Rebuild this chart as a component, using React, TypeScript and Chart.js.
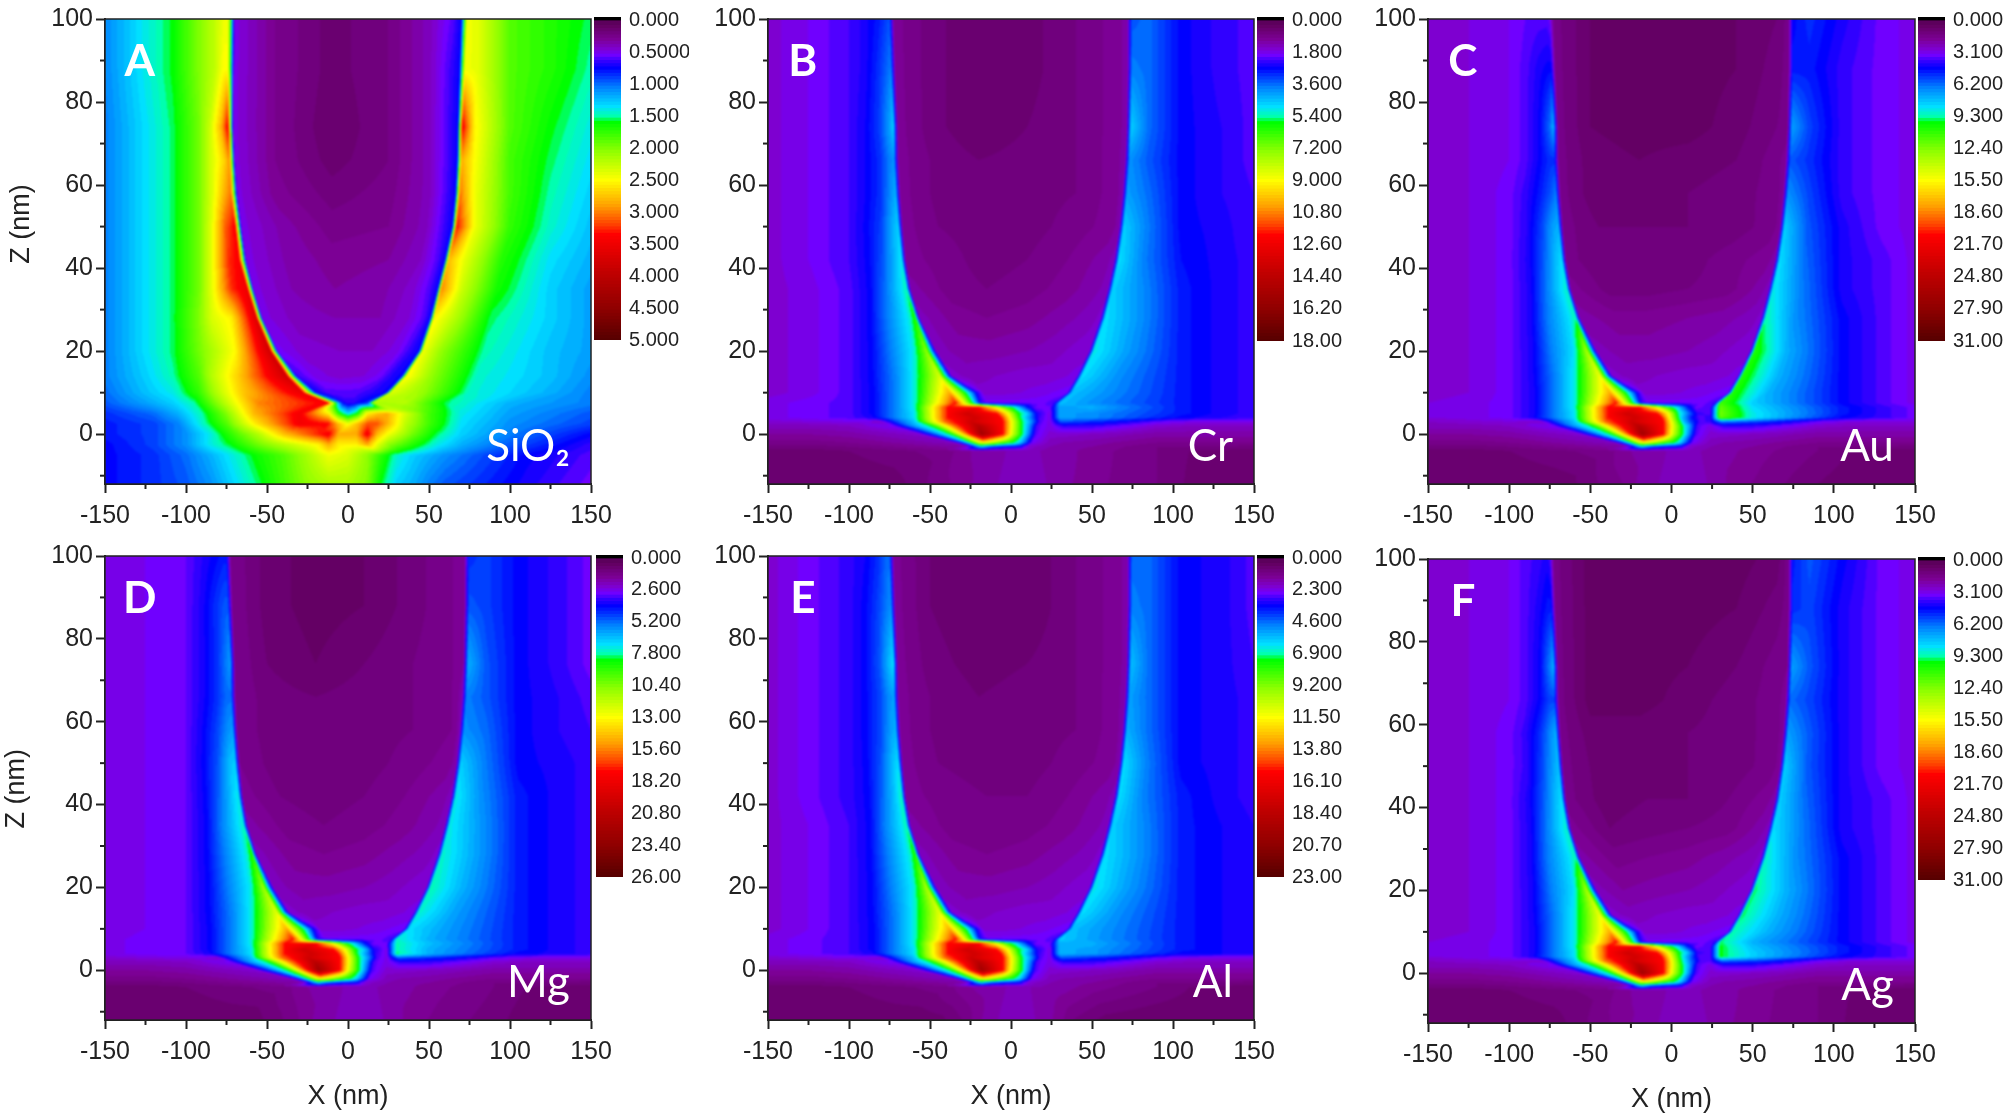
import React, { useEffect, useRef } from "react";
import Chart from "chart.js/auto";

// Field levels are stored on a 0-200 scale of each panel's colour bar.
const xTicks = [-150, -100, -50, 0, 50, 100, 150];
const xMinor = [-125, -75, -25, 25, 75, 125];
const zTicks = [0, 20, 40, 60, 80, 100];
const zMinor = [-10, 10, 30, 50, 70, 90];

const barLabelsSiO2 = ["0.000","0.5000","1.000","1.500","2.000","2.500","3.000","3.500","4.000","4.500","5.000"];
const barLabelsCr = ["0.000","1.800","3.600","5.400","7.200","9.000","10.80","12.60","14.40","16.20","18.00"];
const barLabelsAu = ["0.000","3.100","6.200","9.300","12.40","15.50","18.60","21.70","24.80","27.90","31.00"];
const barLabelsMg = ["0.000","2.600","5.200","7.800","10.40","13.00","15.60","18.20","20.80","23.40","26.00"];
const barLabelsAl = ["0.000","2.300","4.600","6.900","9.200","11.50","13.80","16.10","18.40","20.70","23.00"];
const barLabelsAg = barLabelsAu;

const zRows = [100,88,74,66,58,50,42,35,28,20,14,10,7.5,6.5,5,4,3,2,0,-2,-3,-4,-12];
const xNodes = [
[-150,-125,-100,-90,-82,-77,-75,-72.5,-50,-20,10,40,65,72,74.5,85,105,130,150],
[-150,-125,-100,-90,-82,-76,-74,-71.5,-50,-20,10,40,65,72,74.5,85,105,130,150],
[-150,-125,-100,-90,-81,-75,-72.5,-70,-50,-20,10,40,65,71.5,74,85,105,130,150],
[-150,-125,-100,-90,-81,-75,-72,-69.5,-50,-20,10,40,64,70.5,73,85,105,130,150],
[-150,-125,-100,-90,-81,-74,-71,-68.5,-50,-20,10,40,64,69,71.5,85,105,130,150],
[-150,-125,-100,-89,-80,-73,-69.5,-67,-45,-15,10,40,62,67,69.5,84,105,130,150],
[-150,-125,-100,-88,-79,-71,-67.5,-65,-42,-15,10,35,58,64,66.5,82,105,130,150],
[-150,-125,-100,-87,-78,-68,-64.5,-62,-38,-15,10,35,55,60,62.5,80,105,130,150],
[-150,-125,-100,-87,-76,-63,-59,-56.5,-35,-15,10,30,50,55.5,58,76,105,130,150],
[-150,-125,-100,-86,-74,-60,-52,-46,-30,-12,10,25,42,48.5,51,71,105,130,150],
[-150,-125,-100,-86,-72,-60,-44,-36.5,-25,-10,10,25,35,41,43.5,66,105,130,150],
[-150,-125,-100,-85,-72,-60,-38,-21,-17,-8,6,18,25,35,37.5,60,105,130,150],
[-150,-125,-100,-85,-72,-60,-34,-18.5,-14,-8,4,12,20,27,30,50,105,130,150],
[-150,-125,-100,-85,-72,-60,-39,-20,-10,-2,4,10,15,24,30,50,105,130,150],
[-150,-125,-100,-85,-72,-60,-39,-28,-9,-2,4,10,16,24,30,50,105,130,150],
[-150,-125,-100,-86,-72,-60,-39,-22,-6,0,6,12,17,24,30,50,105,130,150],
[-150,-125,-100,-80,-72,-60,-41,-25,-5,1,7,12,18,24,31,60,90,110,150],
[-150,-125,-100,-72,-62,-49,-35,-20,-5,1,7,12,16,24,32,50,90,110,150],
[-150,-125,-100,-56,-50,-37,-27,-18,-5,1,7,11,15,24,32,50,90,110,150],
[-150,-125,-100,-36,-32,-25,-20,-17,-5,1,5,9,13,24,32,50,90,110,150],
[-150,-125,-100,-28,-25,-21,-18,-12,-3,3,6,8,11,24,32,50,90,110,150],
[-150,-125,-100,-60,-40,-25,-18,-10,-3,3,8,12,18,24,32,50,90,110,150],
[-150,-125,-100,-85,-65,-45,-30,-18,-8,0,8,15,22,30,38,60,90,115,150],
];
const substrateLevels = [
[14,14,15,20,40,62,120,160,132,94,60,40,22,18,24,24,16,15,15],
[11,11,12,16,30,62,120,170,132,90,60,40,22,16,16,15,12,12,12],
[8,8,9,14,26,60,90,100,72,62,52,36,20,14,13,12,9,9,9],
[6,6,7,12,20,40,50,36,30,28,26,20,16,13,12,11,7,7,6],
[4,4,5,7,8,11,12,12,13,13,13,13,13,12,12,10,7,5,4],
];
const levelsCr = [
[16,19,23,26,30,34,36,10,6,3,4,7,10,12,36,38,28,24,22],
[16,19,23,26,32,38,40,10,6,3,4,7,10,12,40,38,28,24,22],
[16,19,23,27,34,44,50,10,6,3,5,7,10,12,50,38,28,25,22],
[16,19,23,27,32,40,42,10,7,5,6,7,10,12,42,36,28,25,22],
[16,19,23,27,32,42,46,10,7,6,6,7,10,12,44,38,28,25,23],
[16,19,23,28,34,46,50,10,7,6,6,8,10,12,50,40,28,26,23],
[16,19,23,28,36,48,54,10,8,6,7,9,12,14,52,40,29,26,24],
[16,18,22,28,38,52,58,12,8,7,8,10,13,14,50,42,30,26,24],
[16,18,22,28,40,54,66,14,10,9,10,12,14,16,52,44,30,26,24],
[16,18,22,28,40,54,80,14,12,12,13,14,16,16,54,44,30,26,24],
[16,18,22,28,40,54,92,16,14,15,16,16,17,18,52,42,30,26,24],
[16,18,22,28,40,54,112,26,16,16,17,18,19,20,48,42,30,26,24],
[18,20,22,28,40,54,132,24,20,20,20,20,20,24,48,42,30,26,24],
[18,20,22,28,40,54,132,136,98,66,50,30,20,20,44,46,30,26,24],
[18,20,22,28,40,52,132,150,132,98,66,50,26,18,44,42,30,26,24],
[18,20,22,26,40,52,132,150,132,94,60,40,24,18,44,42,28,25,24],
[16,17,18,16,32,48,120,150,132,94,60,44,22,18,36,30,21,18,18],
...substrateLevels,
[3,3,3,3,5,8,10,12,13,14,14,14,13,12,11,9,7,4,4],
];
const levelsAu = [
[16,17,19,21,22,22,20,8,3,2,2,3,5,8,28,32,26,20,18],
[16,17,19,22,26,28,28,8,3,2,2,3,6,8,30,30,24,20,18],
[16,17,19,22,28,38,46,8,3,2,2,4,7,8,44,34,24,20,18],
[16,17,19,22,28,32,32,8,4,3,4,5,8,10,36,32,24,20,18],
[16,17,20,24,30,36,40,8,4,4,5,6,8,10,42,34,24,20,18],
[16,17,20,25,34,44,46,8,5,5,5,6,8,10,50,36,26,20,18],
[16,17,20,26,36,48,52,8,5,5,6,8,10,12,52,38,26,22,18],
[16,17,20,26,38,52,56,10,6,6,7,8,12,14,54,40,26,22,18],
[16,17,20,26,40,52,58,12,10,10,11,12,14,16,58,42,28,22,18],
[16,17,20,26,40,52,84,14,12,12,13,14,16,16,66,46,28,22,18],
[16,17,20,26,40,54,96,16,14,15,16,16,17,18,66,46,28,22,18],
[16,17,20,26,40,54,112,26,16,16,17,18,19,20,66,46,28,22,18],
[17,18,20,26,40,54,132,24,20,20,20,20,20,24,70,50,28,22,18],
[17,18,20,26,40,54,132,136,98,66,50,30,20,22,74,52,30,24,20],
[17,18,20,26,40,52,132,150,132,98,60,40,24,22,76,54,30,24,20],
[17,18,20,26,40,52,132,150,132,90,50,30,22,24,74,54,28,24,20],
[15,16,17,16,32,48,120,150,132,90,50,34,22,24,40,32,20,17,17],
...substrateLevels,
[3,3,3,3,4,7,9,12,13,14,14,14,13,12,10,8,5,3,3],
];
const levelsMg = [
[17,19,21,25,28,30,30,9,4,2,3,6,9,11,32,34,28,24,20],
[17,19,21,26,32,36,36,9,4,2,3,6,9,11,36,34,28,24,20],
[17,19,21,26,32,40,44,9,5,3,5,7,9,11,46,36,28,24,20],
[17,19,21,26,32,38,38,9,6,5,6,7,9,12,40,36,28,25,22],
[17,19,21,27,34,42,44,9,6,6,6,7,9,12,42,38,28,25,23],
[17,19,21,28,36,48,50,9,6,6,6,8,10,12,50,40,28,26,24],
[17,19,21,28,38,50,54,10,7,6,7,9,12,14,54,42,30,26,24],
[17,19,21,28,40,52,56,12,8,7,8,10,13,14,54,44,30,26,24],
[17,19,21,28,40,54,66,14,10,9,10,12,14,16,56,46,30,26,24],
[17,19,21,28,40,54,82,14,12,12,13,14,16,16,58,46,30,26,24],
[17,19,21,28,40,54,94,16,14,15,16,16,17,18,56,44,30,26,24],
[17,19,21,28,40,54,112,26,16,16,17,18,19,20,52,44,30,26,24],
[18,20,21,28,40,54,132,24,20,20,20,20,20,24,56,46,30,26,24],
[18,20,21,28,40,54,132,136,98,66,50,30,20,20,58,48,30,26,24],
[18,20,21,28,40,52,132,150,132,98,66,50,26,18,58,46,30,26,24],
[18,20,21,26,40,52,132,150,132,94,60,40,24,18,60,46,28,26,24],
[16,17,18,16,32,48,120,150,132,94,60,44,22,18,36,30,21,18,18],
...substrateLevels,
[3,3,3,3,3,6,9,12,13,14,14,14,13,12,10,8,6,3,3],
];
const levelsAl = [
[16,20,24,27,32,38,38,10,5,3,3,7,10,12,38,38,28,26,22],
[16,20,24,28,34,40,42,10,5,3,3,7,10,12,40,38,28,26,22],
[16,20,24,28,36,48,52,10,6,4,5,7,10,12,48,38,28,26,23],
[16,20,24,28,34,42,44,10,7,5,6,7,10,12,44,38,28,26,24],
[16,20,24,28,34,44,46,10,7,6,6,7,10,12,46,38,28,26,24],
[16,20,24,28,36,48,52,10,7,6,6,8,10,12,52,40,28,26,24],
[16,20,24,28,38,50,58,10,8,7,7,9,12,14,52,40,30,26,24],
[16,19,23,28,40,52,58,12,8,7,8,10,13,14,50,42,30,27,25],
[16,19,23,28,40,54,66,14,10,9,10,12,14,16,52,44,30,27,25],
[16,19,23,28,40,54,84,14,12,12,13,14,16,16,54,44,30,27,25],
[16,19,23,28,40,54,94,16,14,15,16,16,17,18,52,42,30,27,25],
[16,19,23,28,40,54,112,26,16,16,17,18,19,20,48,42,30,27,25],
[18,20,23,28,40,54,132,24,20,20,20,20,20,24,50,44,30,27,25],
[18,20,23,28,40,54,132,136,98,66,50,30,20,20,46,46,30,27,25],
[18,20,23,28,40,52,132,150,132,98,66,50,26,18,46,44,30,27,25],
[18,20,23,26,40,52,132,150,132,94,60,40,24,18,46,44,28,27,25],
[16,17,18,16,32,48,120,150,132,94,60,44,22,18,36,30,21,18,18],
...substrateLevels,
[3,3,3,3,3,4,7,11,13,14,14,13,12,10,7,4,3,3,3],
];
const levelsAg = [
[16,17,19,22,24,26,24,8,2,2,2,2,4,8,30,36,28,20,18],
[16,17,19,22,26,30,30,8,2,2,2,3,6,8,32,34,26,20,18],
[16,17,19,22,28,40,46,8,2,2,3,5,8,9,44,36,26,20,18],
[16,17,19,22,28,34,34,8,2,2,4,6,8,10,38,34,26,20,18],
[16,17,20,24,32,42,46,8,4,4,5,6,8,10,44,36,26,20,18],
[16,17,20,24,34,44,48,8,4,4,5,6,8,10,50,36,26,20,18],
[16,17,20,26,36,48,52,8,4,5,5,7,10,12,50,38,26,22,18],
[16,17,20,26,38,52,56,10,5,6,7,8,12,14,52,40,26,22,18],
[16,17,20,26,40,52,58,12,8,9,10,12,14,16,56,42,28,22,18],
[16,17,20,26,40,52,84,14,11,12,13,14,16,16,60,46,28,22,18],
[16,17,20,26,40,54,96,16,14,15,16,16,17,18,60,46,28,22,18],
[16,17,20,26,40,54,112,26,16,16,17,18,19,20,58,46,28,22,18],
[17,18,20,26,40,54,132,24,20,20,20,20,20,24,60,46,28,22,18],
[17,18,20,26,40,54,132,136,98,66,50,30,20,22,62,48,30,24,20],
[17,18,20,26,40,52,132,150,132,98,66,48,24,22,62,50,30,24,20],
[17,18,20,26,40,52,132,150,132,94,58,36,22,22,62,50,28,24,20],
[15,16,17,16,32,48,120,150,132,92,56,38,22,22,38,32,20,17,17],
...substrateLevels,
[3,3,3,3,5,8,10,12,13,14,14,14,13,12,11,9,7,4,3],
];

const zRowsSiO2 = [100,88,74,66,58,50,42,35,28,20,14,10,7.5,5,2.5,0,-2.5,-5,-12];
const xNodesSiO2 = [
[-150,-125,-108,-92,-82,-76,-74,-70,-45,-10,25,50,65,70,73.5,80,100,125,150],
[-150,-125,-108,-92,-82,-77,-74,-70.5,-45,-10,25,50,64,69,72,80,100,125,150],
[-150,-125,-108,-92,-85,-78,-74,-71,-45,-10,25,50,63,68,70.5,78,100,125,150],
[-150,-125,-108,-92,-85,-77,-73,-70,-45,-10,25,50,63,67.5,70,78,100,125,150],
[-150,-125,-108,-92,-84,-76,-72,-68.5,-45,-10,25,50,62,66.5,69,78,100,125,150],
[-150,-125,-108,-92,-84,-76,-69.5,-66,-40,-10,25,48,60,64.5,67,78,100,125,150],
[-150,-125,-108,-92,-84,-74,-67,-63,-40,-10,25,45,55,60,62,72,95,125,150],
[-150,-125,-108,-92,-84,-72,-62,-58.5,-35,-8,20,40,50,55.5,57.5,70,92,125,150],
[-150,-125,-108,-92,-84,-72,-56.5,-53,-32,-8,20,38,47,51,53,66,88,125,150],
[-150,-125,-108,-92,-84,-70,-48,-43.5,-28,-5,15,30,38,44,46,58,84,125,150],
[-150,-125,-108,-92,-84,-68,-38,-32,-20,-5,10,20,28,33.5,36,52,80,125,150],
[-150,-125,-108,-92,-82,-66,-28,-20,-12,-5,5,12,18,24,26,45,75,125,150],
[-150,-125,-108,-95,-80,-55,-12,-6,-3,0,3,7,10,12,15,35,60,100,150],
[-150,-120,-105,-90,-75,-58,-30,-12,-6,0,6,12,18,24,35,50,70,100,150],
[-150,-120,-105,-90,-75,-58,-30,-12,-6,0,6,12,18,24,35,50,70,100,150],
[-150,-120,-100,-85,-72,-55,-40,-18,-12,-6,5,12,18,25,40,55,70,100,150],
[-150,-120,-100,-85,-72,-55,-40,-18,-12,-6,5,12,18,25,40,55,70,100,150],
[-150,-120,-100,-85,-72,-55,-40,-25,-12,0,12,20,30,40,50,60,80,110,150],
[-150,-120,-100,-85,-72,-55,-40,-25,-12,0,12,20,30,40,50,60,80,110,150],
];
const levelsSiO2 = [
[41,54,62,78,88,96,96,18,9,4,7,14,22,28,96,94,72,66,60],
[41,54,62,78,88,98,98,18,9,4,7,14,24,28,96,94,72,66,58],
[40,52,60,76,90,112,136,18,9,3,7,14,24,28,136,100,72,62,54],
[40,52,60,76,90,104,116,18,9,4,7,14,24,28,112,98,70,60,52],
[40,52,60,76,92,112,120,18,10,6,8,14,24,28,120,96,70,58,50],
[40,52,60,76,94,122,134,18,12,8,9,14,24,28,132,96,68,56,48],
[40,52,60,76,94,128,134,18,13,10,11,15,22,28,110,94,66,52,46],
[40,52,60,76,94,128,138,18,13,11,12,16,22,28,118,90,64,50,44],
[40,52,60,78,92,100,145,18,14,13,13,17,22,28,100,86,60,50,44],
[40,52,60,76,84,98,150,20,16,15,15,18,24,28,96,80,58,48,44],
[40,50,58,72,86,106,150,24,18,16,17,20,26,28,100,80,56,48,42],
[38,48,54,68,84,106,140,28,22,22,22,24,26,28,92,82,56,46,40],
[36,44,50,58,80,118,134,50,28,24,24,28,30,34,84,86,60,46,40],
[32,38,46,58,78,110,136,100,68,50,64,100,108,112,92,70,54,44,36],
[30,34,40,56,72,100,136,132,110,96,110,124,124,112,88,70,52,42,34],
[30,34,42,54,68,86,108,130,136,112,112,136,110,96,76,60,50,40,28],
[28,34,42,54,62,76,86,100,112,100,100,112,94,80,66,54,46,36,24],
[28,32,38,46,54,64,72,84,96,92,80,68,56,50,46,42,36,28,22],
[28,32,36,42,50,60,70,80,84,84,78,62,50,46,40,36,32,26,20],
];

const colorStops: [number, string][] = [
  [0,"#5c005c"],[1,"#640064"],[5,"#7c0095"],[8,"#7e00d0"],[10,"#7000ff"],[12,"#3000ff"],[14,"#0000ff"],
  [20,"#0080ff"],[26,"#00e0ff"],[29,"#00ffb0"],[31,"#00ff00"],[40,"#90ff00"],[49,"#ffff00"],[57,"#ffa000"],
  [63,"#ff4000"],[66,"#ff0000"],[78,"#c00000"],[89,"#900000"],[100,"#500000"],
];
const rgb = (h: string) => [1, 3, 5].map((i) => parseInt(h.slice(i, i + 2), 16));
const lut: number[][] = [];
for (let p = 0; p <= 100; p++) {
  let k = 0;
  while (k < colorStops.length - 2 && colorStops[k + 1][0] < p) k++;
  const [p0, c0] = colorStops[k];
  const [p1, c1] = colorStops[k + 1];
  const t = (p - p0) / (p1 - p0);
  const a = rgb(c0), b = rgb(c1);
  lut.push(a.map((v, i) => Math.round(v + (b[i] - v) * t)));
}
const cssAt = (p: number) => `rgb(${lut[p].join(",")})`;

const SANS = "'Liberation Sans', Arial, sans-serif";
const INK = "#222222";

const panels = [
  { letter: "A", material: "SiO₂", zs: zRowsSiO2, xs: xNodesSiO2, levels: levelsSiO2, barLabels: barLabelsSiO2, max: 5, L: 105, R: 591, T: 17, B: 484, bL: 594, bT: 17, bB: 340, zTitle: { x: 22, z: 50.6 }, showX: false },
  { letter: "B", material: "Cr", zs: zRows, xs: xNodes, levels: levelsCr, barLabels: barLabelsCr, max: 18, L: 768, R: 1254, T: 17, B: 484, bL: 1257, bT: 17, bB: 341, zTitle: null, showX: false },
  { letter: "C", material: "Au", zs: zRows, xs: xNodes, levels: levelsAu, barLabels: barLabelsAu, max: 31, L: 1428, R: 1915, T: 17, B: 484, bL: 1918, bT: 17, bB: 341, zTitle: null, showX: false },
  { letter: "D", material: "Mg", zs: zRows, xs: xNodes, levels: levelsMg, barLabels: barLabelsMg, max: 26, L: 105, R: 591, T: 554, B: 1020, bL: 596, bT: 555, bB: 877, zTitle: { x: 17, z: 43.8 }, showX: true },
  { letter: "E", material: "Al", zs: zRows, xs: xNodes, levels: levelsAl, barLabels: barLabelsAl, max: 23, L: 768, R: 1254, T: 554, B: 1020, bL: 1257, bT: 555, bB: 877, zTitle: null, showX: true },
  { letter: "F", material: "Ag", zs: zRows, xs: xNodes, levels: levelsAg, barLabels: barLabelsAg, max: 31, L: 1428, R: 1915, T: 557, B: 1023, bL: 1918, bT: 557, bB: 880, zTitle: null, showX: true },
];

const heatPlugin = {
  id: "heat",
  beforeDatasetsDraw(chart: any) {
    const { ctx, chartArea: a, scales } = chart;
    const xS = scales.x, yS = scales.y;
    const w = Math.round(a.right - a.left), h = Math.round(a.bottom - a.top);
    const off = document.createElement("canvas");
    off.width = w; off.height = h;
    const oc = off.getContext("2d")!;
    const img = oc.createImageData(w, h);
    const rows = chart.data.datasets.map((d: any) => d.data);
    for (let py = 0; py < h; py++) {
      const z = yS.getValueForPixel(a.top + py + 0.5);
      let j = 0;
      while (j < rows.length - 2 && rows[j + 1][0].y > z) j++;
      const ra = rows[j], rb = rows[j + 1];
      const t = Math.min(1, Math.max(0, (ra[0].y - z) / (ra[0].y - rb[0].y)));
      const nx = ra.map((n: any, i: number) => n.x + (rb[i].x - n.x) * t);
      const nv = ra.map((n: any, i: number) => n.v + (rb[i].v - n.v) * t);
      let k = 0;
      for (let px = 0; px < w; px++) {
        const x = xS.getValueForPixel(a.left + px + 0.5);
        while (k < nx.length - 2 && nx[k + 1] < x) k++;
        const s = Math.min(1, Math.max(0, (x - nx[k]) / (nx[k + 1] - nx[k] || 1)));
        const v = nv[k] + (nv[k + 1] - nv[k]) * s;
        const c = lut[Math.min(100, Math.max(0, Math.round(v / 2)))];
        const o = (py * w + px) * 4;
        img.data[o] = c[0]; img.data[o + 1] = c[1]; img.data[o + 2] = c[2]; img.data[o + 3] = 255;
      }
    }
    oc.putImageData(img, 0, 0);
    ctx.save();
    ctx.beginPath();
    ctx.rect(a.left, a.top, w, h);
    ctx.clip();
    ctx.drawImage(off, a.left, a.top);
    ctx.filter = "blur(0.9px)";
    ctx.drawImage(off, a.left, a.top);
    ctx.restore();
  },
};

const overlayPlugin = (letter: string, material: string, zTitle: { x: number; z: number } | null) => ({
  id: "overlay",
  afterDraw(chart: any) {
    const { ctx, chartArea: a, scales } = chart;
    const xS = scales.x, yS = scales.y;
    ctx.save();
    ctx.strokeStyle = INK;
    ctx.lineWidth = 1.5;
    ctx.strokeRect(a.left, a.top, a.right - a.left, a.bottom - a.top);
    ctx.lineWidth = 2;
    xMinor.forEach((v) => {
      const p = xS.getPixelForValue(v);
      ctx.beginPath(); ctx.moveTo(p, a.bottom); ctx.lineTo(p, a.bottom + 5); ctx.stroke();
    });
    zMinor.forEach((v) => {
      const p = yS.getPixelForValue(v);
      ctx.beginPath(); ctx.moveTo(a.left, p); ctx.lineTo(a.left - 5, p); ctx.stroke();
    });
    ctx.fillStyle = "#ffffff";
    ctx.textBaseline = "middle";
    ctx.textAlign = "center";
    ctx.font = "bold 44px Lato, sans-serif";
    ctx.fillText(letter, xS.getPixelForValue(-128.5), yS.getPixelForValue(89.7));
    ctx.textBaseline = "alphabetic";
    ctx.textAlign = "right";
    ctx.font = "44px Lato, 'Noto Sans', sans-serif";
    ctx.fillText(material, xS.getPixelForValue(137), yS.getPixelForValue(-6.5));
    if (zTitle) {
      ctx.translate(zTitle.x, yS.getPixelForValue(zTitle.z));
      ctx.rotate(-Math.PI / 2);
      ctx.fillStyle = INK;
      ctx.textAlign = "center";
      ctx.textBaseline = "middle";
      ctx.font = `27px ${SANS}`;
      ctx.fillText("Z (nm)", 0, 0);
    }
    ctx.restore();
  },
});

function HeatPanel({ p }: { p: (typeof panels)[number] }) {
  const ref = useRef<HTMLCanvasElement>(null);
  const axisW = p.zTitle ? 105 : 70;
  const xH = p.showX ? 93 : 46;
  const topPad = 16, rightPad = 32;
  useEffect(() => {
    const chart = new Chart(ref.current!, {
      type: "scatter",
      data: {
        datasets: p.zs.map((z, r) => ({
          label: `z=${z}`,
          data: p.xs[r].map((x, i) => ({ x, y: z, v: p.levels[r][i] })),
          pointRadius: 0,
          showLine: false,
        })),
      } as any,
      options: {
        animation: false,
        responsive: false,
        devicePixelRatio: 1,
        layout: { padding: { top: topPad, right: rightPad, left: 0, bottom: 0 } },
        plugins: { legend: { display: false }, tooltip: { enabled: false } },
        scales: {
          x: {
            type: "linear", min: -150, max: 150,
            afterBuildTicks: (s: any) => { s.ticks = xTicks.map((value) => ({ value })); },
            afterFit: (s: any) => { s.height = xH; },
            ticks: { autoSkip: false, maxRotation: 0, padding: 8, color: INK, font: { family: SANS, size: 25 }, callback: (v: any) => String(v) },
            grid: { drawOnChartArea: false, tickLength: 9, tickColor: INK, tickWidth: 2 },
            border: { color: INK, width: 2 },
            title: { display: p.showX, text: "X (nm)", color: INK, font: { family: SANS, size: 27 }, padding: { top: 0, bottom: 0 } },
          },
          y: {
            type: "linear", min: -12, max: 100,
            afterBuildTicks: (s: any) => { s.ticks = zTicks.map((value) => ({ value })); },
            afterFit: (s: any) => { s.width = axisW; },
            ticks: { autoSkip: false, padding: 3, color: INK, font: { family: SANS, size: 25 }, callback: (v: any) => String(v) },
            grid: { drawOnChartArea: false, tickLength: 9, tickColor: INK, tickWidth: 2 },
            border: { color: INK, width: 2 },
          },
        },
      } as any,
      plugins: [heatPlugin, overlayPlugin(p.letter, p.material, p.zTitle)] as any,
    });
    return () => chart.destroy();
  }, []);
  return (
    <canvas
      ref={ref}
      width={axisW + (p.R - p.L) + rightPad}
      height={topPad + (p.B - p.T) + xH}
      style={{ position: "absolute", left: p.L - axisW, top: p.T - topPad, display: "block" }}
    />
  );
}

const barSteps = Array.from({ length: 100 }, (_, i) => i);

function ColorBar({ p }: { p: (typeof panels)[number] }) {
  const ref = useRef<HTMLCanvasElement>(null);
  const barW = 27, labelW = 68, pad = 22;
  useEffect(() => {
    const step = p.max / 100;
    const low = -p.max * 0.0095;
    const chart = new Chart(ref.current!, {
      type: "bar",
      data: {
        labels: ["level"],
        datasets: [
          { label: "below", data: [[low, 0]], backgroundColor: "#000000" },
          ...barSteps.map((i) => ({
            label: `s${i}`,
            data: [[i * step, (i + 1.4) * step > p.max ? p.max : (i + 1.4) * step]],
            backgroundColor: cssAt(i),
          })),
        ],
      } as any,
      options: {
        animation: false,
        responsive: false,
        devicePixelRatio: 1,
        layout: { padding: { top: pad, bottom: pad, left: 0, right: 0 } },
        plugins: { legend: { display: false }, tooltip: { enabled: false } },
        datasets: { bar: { barPercentage: 1, categoryPercentage: 1, grouped: false, borderWidth: 0 } },
        scales: {
          x: { display: false },
          y: {
            position: "right",
            reverse: true,
            min: low,
            max: p.max,
            afterBuildTicks: (s: any) => { s.ticks = p.barLabels.map((_, i) => ({ value: (i * p.max) / 10 })); },
            afterFit: (s: any) => { s.width = labelW; },
            ticks: {
              autoSkip: false, padding: 8, color: INK, font: { family: SANS, size: 20 },
              callback: (_: any, i: number) => p.barLabels[i],
            },
            grid: { display: false, drawTicks: false },
            border: { display: false },
          },
        },
      } as any,
    });
    return () => chart.destroy();
  }, []);
  return (
    <canvas
      ref={ref}
      width={barW + labelW}
      height={p.bB - p.bT + pad * 2}
      style={{ position: "absolute", left: p.bL, top: p.bT - pad, display: "block" }}
    />
  );
}

export default function App() {
  return (
    <div style={{ position: "absolute", left: 0, top: 0, width: 2010, height: 1116, background: "#fff", overflow: "hidden" }}>
      {panels.map((p) => (
        <React.Fragment key={p.letter}>
          <HeatPanel p={p} />
          <ColorBar p={p} />
        </React.Fragment>
      ))}
    </div>
  );
}
